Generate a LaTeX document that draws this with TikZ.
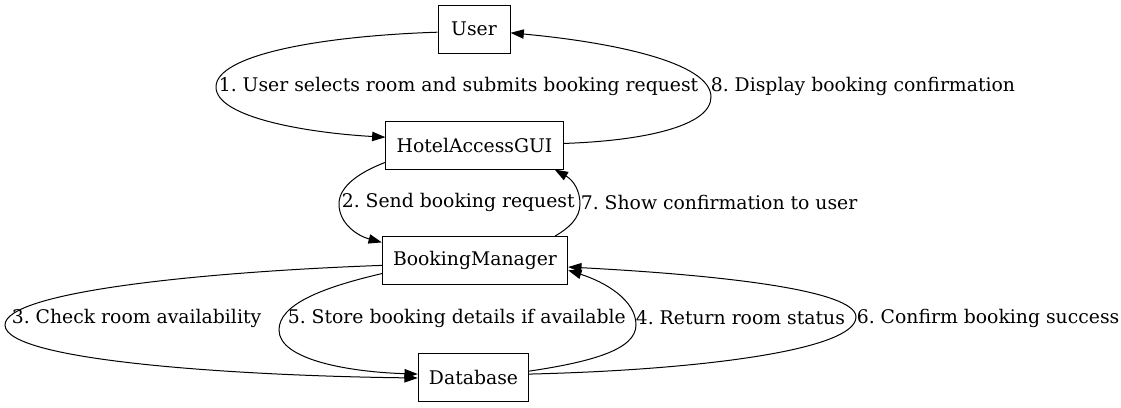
\documentclass[tikz,border=0pt]{standalone}
\usepackage{fontspec}
\setmainfont{DejaVu Serif}
\usetikzlibrary{arrows.meta}
\frenchspacing

\tikzset{
  box/.style={draw, rectangle, minimum width=54pt, minimum height=36pt, inner xsep=8pt},
  lbl/.style={anchor=west, inner sep=1pt},
}

\begin{document}
\begin{tikzpicture}[x=0.75pt,y=-0.75pt,>={Triangle[length=10pt,width=7pt]},line width=0.75pt,font=\fontsize{14.1}{17}\selectfont]
\useasboundingbox (0,0) rectangle (1121,407);

\node[box] (user) at (474,29) {User};
\node[box] (gui) at (474.5,145) {HotelAccessGUI};
\node[box] (bm) at (475,260.5) {BookingManager};
\node[box] (db) at (473.5,377) {Database};

% edge labels
\node[lbl] (l1) at (217,86) {1. User selects room and submits booking request};
\node[lbl] (l8) at (709,86) {8. Display booking confirmation};
\node[lbl] (l2) at (340,202) {2. Send booking request};
\node[lbl] (l7) at (579,202) {7. Show confirmation to user};
\node[lbl] (l3) at (10,318) {3. Check room availability};
\node[lbl] (l5) at (286,318) {5. Store booking details if available};
\node[lbl] (l4) at (634,318) {4. Return room status};
\node[lbl] (l6) at (855,318) {6. Confirm booking success};

% User <-> GUI
\draw[->] (user.185) .. controls (320,36) and (216,55) .. (216,87) .. controls (216,118) and (310,133) .. (gui.175);
\draw[->] (gui.1) .. controls (640,141) and (711,127) .. (711,97) .. controls (711,62) and (610,42) .. (user.-6);

% GUI <-> BookingManager
\draw[->] (gui.191) .. controls (360,172) and (339,186) .. (339,204) .. controls (339,224) and (358,236) .. (bm.169);
\draw[->] (bm.17) .. controls (569,228) and (580,218) .. (580,204) .. controls (580,190) and (573,180) .. (gui.-17);

% BookingManager <-> Database
\draw[->] (bm.183) .. controls (200,272) and (5,292) .. (5,325) .. controls (5,362) and (250,376) .. (db.181);
\draw[->] (bm.188) .. controls (320,288) and (279,305) .. (279,330) .. controls (279,360) and (350,372) .. (db.177);
\draw[->] (db.6) .. controls (590,362) and (636,350) .. (636,325) .. controls (636,300) and (605,282) .. (bm.-6);
\draw[->] (db.3) .. controls (700,370) and (856,350) .. (856,317) .. controls (856,290) and (720,275) .. (bm.-4);

\end{tikzpicture}
\end{document}
